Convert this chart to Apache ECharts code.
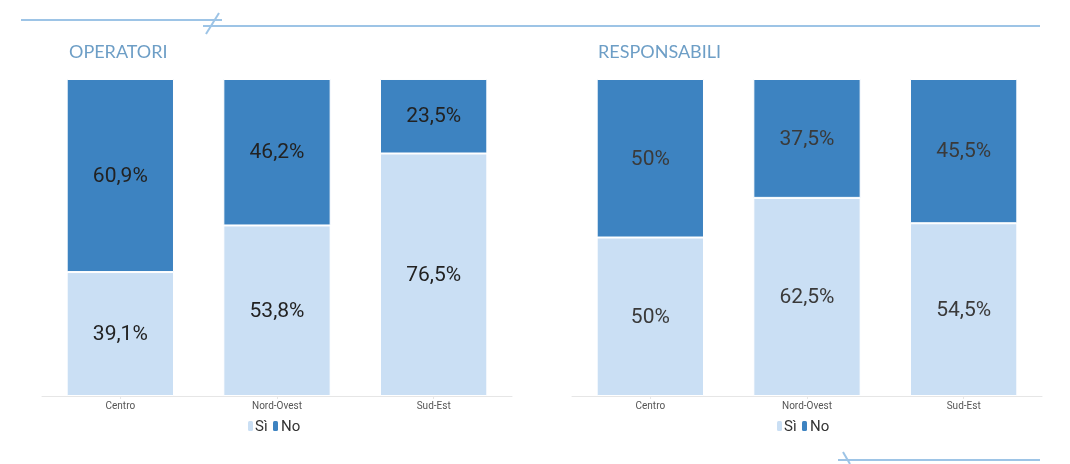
<!DOCTYPE html>
<html><head><meta charset="utf-8">
<script src="https://cdn.jsdelivr.net/npm/echarts@6/dist/echarts.min.js"></script>
<style>html,body{margin:0;padding:0;background:#fff}#c{width:1070px;height:464px}</style>
</head><body><div id="c"></div>
<script>
const categories = ['Centro', 'Nord-Ovest', 'Sud-Est'];
const seriesNames = ['Sì', 'No'];
const operatoriSi = [39.1, 53.8, 76.5];
const operatoriNo = [60.9, 46.2, 23.5];
const responsabiliSi = [50, 62.5, 54.5];
const responsabiliNo = [50, 37.5, 45.5];
const panelTitles = ['OPERATORI', 'RESPONSABILI'];

const colSi = '#cadff4';
const colNo = '#3d83c1';
const lineCol = '#9dc4e6';

const chart = echarts.init(document.getElementById('c'), null, {renderer: 'canvas'});
const fmt = p => String(p.value).replace('.', ',') + '%';

function mkSeries(name, data, idx, color, labelColor) {
  return {
    name: name, type: 'bar', stack: 's' + idx, xAxisIndex: idx, yAxisIndex: idx,
    data: data, barWidth: '68.5%',
    itemStyle: {color: color, borderColor: '#fff', borderWidth: 1},
    label: {show: true, position: 'inside', formatter: fmt, fontFamily: 'Roboto',
      fontSize: 21, color: labelColor, offset: [0, 1]},
    emphasis: {disabled: true}
  };
}

const xAx = idx => ({
  type: 'category', gridIndex: idx, data: categories,
  axisLine: {lineStyle: {color: '#e6e6e6'}},
  axisTick: {show: true, alignWithLabel: true, length: 3, lineStyle: {color: '#e6e6e6'}},
  axisLabel: {color: '#555', fontSize: 10, fontFamily: 'Roboto', margin: 5}
});
const yAx = idx => ({type: 'value', gridIndex: idx, min: 0, max: 100, show: false});

function legendGraphics(x0) {
  return [
    {type: 'rect', shape: {x: x0, y: 421, width: 5, height: 10, r: 1.5}, style: {fill: colSi}},
    {type: 'text', style: {x: x0 + 7, y: 427, text: seriesNames[0], fill: '#333', font: '15px Roboto', verticalAlign: 'middle'}},
    {type: 'rect', shape: {x: x0 + 25, y: 421, width: 5, height: 10, r: 1.5}, style: {fill: colNo}},
    {type: 'text', style: {x: x0 + 33, y: 427, text: seriesNames[1], fill: '#333', font: '15px Roboto', verticalAlign: 'middle'}}
  ];
}

chart.setOption({
  animation: false,
  title: [
    {text: panelTitles[0], left: 64, top: 38, textStyle: {fontFamily: 'Lato', fontWeight: 'normal', fontSize: 18, color: '#6d9ec6'}},
    {text: panelTitles[1], left: 593, top: 38, textStyle: {fontFamily: 'Lato', fontWeight: 'normal', fontSize: 18, color: '#6d9ec6'}}
  ],
  grid: [
    {left: 42, top: 79, width: 470, height: 317},
    {left: 572, top: 79, width: 470, height: 317}
  ],
  xAxis: [xAx(0), xAx(1)],
  yAxis: [yAx(0), yAx(1)],
  series: [
    mkSeries('Sì', operatoriSi, 0, colSi, '#222'),
    mkSeries('No', operatoriNo, 0, colNo, '#222'),
    mkSeries('Sì', responsabiliSi, 1, colSi, '#3a3a3a'),
    mkSeries('No', responsabiliNo, 1, colNo, '#3a3a3a')
  ],
  graphic: [
    {type: 'line', shape: {x1: 21, y1: 20, x2: 222, y2: 20}, style: {stroke: lineCol, lineWidth: 2}},
    {type: 'line', shape: {x1: 203, y1: 26, x2: 1040, y2: 26}, style: {stroke: lineCol, lineWidth: 2}},
    {type: 'line', shape: {x1: 219, y1: 13, x2: 206, y2: 34}, style: {stroke: lineCol, lineWidth: 2}},
    {type: 'line', shape: {x1: 838, y1: 460, x2: 1040, y2: 460}, style: {stroke: lineCol, lineWidth: 2}},
    {type: 'line', shape: {x1: 843, y1: 452, x2: 850, y2: 464}, style: {stroke: lineCol, lineWidth: 2}}
  ].concat(legendGraphics(248), legendGraphics(777))
});
</script></body></html>
